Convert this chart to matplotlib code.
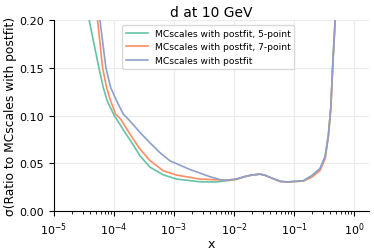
import numpy as np
import matplotlib
matplotlib.use('Agg')
import matplotlib.pyplot as plt

# log10(x) positions and sigma values
green_logx = [-4.485, -4.412, -4.250, -4.178, -4.112, -3.995, -3.955,
              -3.833, -3.705, -3.567, -3.400, -3.178, -2.955, -2.567, -2.288, -1.955]
green_y = [0.23, 0.2, 0.15, 0.1295, 0.1155, 0.10, 0.0963,
           0.084, 0.072, 0.058, 0.046, 0.038, 0.0335, 0.0307, 0.0305, 0.0332]

orange_logx = [-4.335, -4.272, -4.188, -4.122, -4.055, -3.972, -3.888,
               -3.733, -3.567, -3.400, -3.178, -2.955, -2.567, -2.067, -1.955]
orange_y = [0.23, 0.2, 0.15, 0.1295, 0.1155, 0.1016, 0.0963,
            0.0806, 0.065, 0.053, 0.0422, 0.0377, 0.0335, 0.0322, 0.0335]

blue_logx = [-4.293, -4.233, -4.133, -4.055, -3.955, -3.845, -3.762,
             -3.650, -3.567, -3.400, -3.230, -3.067, -2.733, -2.400, -2.178, -1.955]
blue_y = [0.23, 0.2, 0.15, 0.1295, 0.1155, 0.1016, 0.0963,
          0.0885, 0.0824, 0.0715, 0.061, 0.0527, 0.0435, 0.036, 0.032, 0.0338]

# large-x part where the three curves overlap
tail_logx = [-1.817, -1.700, -1.567, -1.483, -1.400, -1.233, -1.117, -1.012, -0.845,
             -0.705, -0.567, -0.483, -0.428, -0.388, -0.355, -0.317, -0.292]
tail_y = [0.0362, 0.0378, 0.0387, 0.0375, 0.0353, 0.0312, 0.0305, 0.031, 0.0318,
          0.037, 0.0445, 0.057, 0.08, 0.1086, 0.154, 0.199, 0.24]
orange_tail_y = [0.0362, 0.0378, 0.0387, 0.0375, 0.0352, 0.0310, 0.0304, 0.0308, 0.0314,
                 0.0355, 0.0425, 0.055, 0.078, 0.1076, 0.154, 0.199, 0.24]

labels = ['MCscales with postfit, 5-point',
          'MCscales with postfit, 7-point',
          'MCscales with postfit']
colors = ['#66c2a5', '#fc8d62', '#8da0cb']


def plot():
    fig = plt.figure(figsize=(3.74, 2.51), dpi=100)
    ax = fig.add_axes([0.144, 0.155, 0.843, 0.761])

    curves = [
        (green_logx + tail_logx, green_y + tail_y),
        (orange_logx + tail_logx, orange_y + orange_tail_y),
        (blue_logx + tail_logx, blue_y + tail_y),
    ]
    for (lx, y), c, lab in zip(curves, colors, labels):
        ax.plot(10 ** np.array(lx), y, color=c, lw=1.2, label=lab)

    ax.set_xscale('log')
    ax.set_xlim(1e-5, 10 ** 0.25)
    ax.set_ylim(0, 0.2)
    ax.set_yticks([0, 0.05, 0.10, 0.15, 0.20])
    ax.set_yticklabels(['0.00', '0.05', '0.10', '0.15', '0.20'])
    ax.set_xticks([1e-5, 1e-4, 1e-3, 1e-2, 1e-1, 1e0])
    ax.tick_params(labelsize=8, width=0.8, length=3.5)
    ax.tick_params(which='minor', width=0.6, length=2)

    ax.grid(True, which='major', color='#ebebeb', lw=0.8)
    ax.set_axisbelow(True)
    ax.spines['top'].set_visible(False)
    ax.spines['right'].set_visible(False)

    ax.set_title('d at 10 GeV', fontsize=10, pad=3)
    ax.set_xlabel('x', fontsize=9, labelpad=0)
    ax.set_ylabel('σ(Ratio to MCscales with postfit)', fontsize=8.8, labelpad=2)

    ax.legend(loc='upper left', bbox_to_anchor=(0.216, 0.974), borderaxespad=0,
              fontsize=6.6, handlelength=2.4, frameon=True, framealpha=1,
              edgecolor='#d9d9d9', fancybox=True)

    fig.savefig('out.png', dpi=100)


if __name__ == "__main__":
    plot()
